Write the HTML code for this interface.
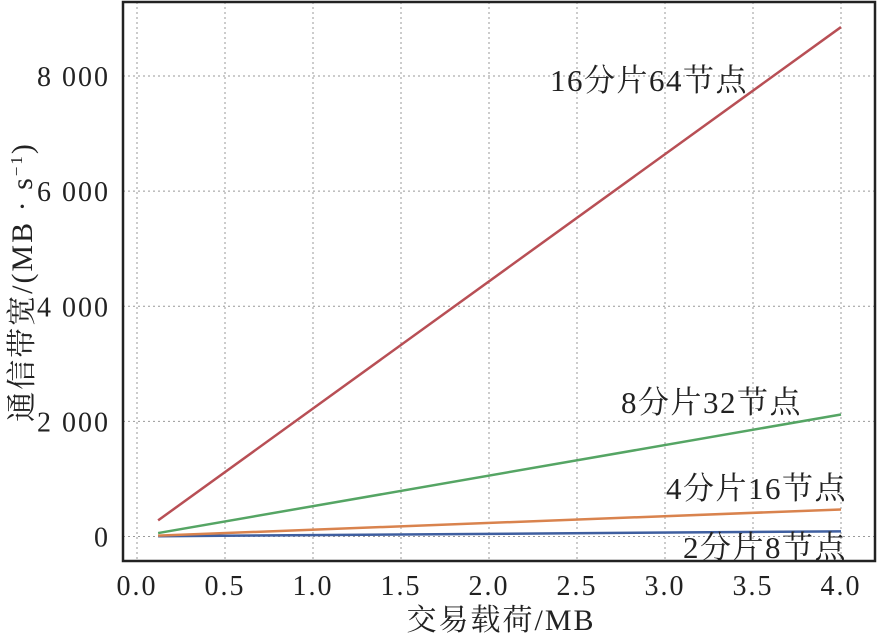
<!DOCTYPE html>
<html><head><meta charset="utf-8"><style>
body{margin:0;background:#fff;}
svg text{font-family:"Liberation Serif","Noto Serif CJK SC",serif;fill:#222;}
</style></head><body>
<svg width="880" height="638">
<g id="grid"></g>
<rect x="123" y="2" width="752" height="559" fill="none" stroke="#222" stroke-width="2.5"/>
<g id="ticks"></g>
<g id="series"></g>
<text x="501" y="630" font-size="30" letter-spacing="2" text-anchor="middle">交易载荷/MB</text>
<text transform="translate(32,282) rotate(-90)" font-size="30" letter-spacing="2" text-anchor="middle">通信带宽/(MB · s<tspan dy="-10" font-size="17">−1</tspan><tspan dy="10">)</tspan></text>
</svg>
<script>
const xTicks=[0,0.5,1,1.5,2,2.5,3,3.5,4];
const xTickLabels=["0.0","0.5","1.0","1.5","2.0","2.5","3.0","3.5","4.0"];
const yTicks=[0,2000,4000,6000,8000];
const yTickLabels=["0","2 000","4 000","6 000","8 000"];
const xValues=[0.12,4.0];
const s2=[5,90];
const s4=[15,470];
const s8=[60,2120];
const s16=[280,8850];
const seriesNames=["2分片8节点","4分片16节点","8分片32节点","16分片64节点"];
const NS="http://www.w3.org/2000/svg";
const X=v=>137+v*176;
const Y=v=>536.5-v*460.5/8000;
function mk(t,a,p){const e=document.createElementNS(NS,t);for(const k in a)e.setAttribute(k,a[k]);p.appendChild(e);return e;}
const grid=document.getElementById('grid'),ticks=document.getElementById('ticks'),ser=document.getElementById('series');
xTicks.forEach((v,i)=>{
 const l=mk('line',{x1:X(v),x2:X(v),y1:2,y2:561,stroke:'#999','stroke-dasharray':'2,3'},grid);
 
 
 const t=mk('text',{x:X(v),y:595,'font-size':28,'letter-spacing':2,'text-anchor':'middle'},ticks);t.textContent=xTickLabels[i];
 
 
});
yTicks.forEach((v,i)=>{
 const l=mk('line',{x1:123,x2:875,y1:Y(v),y2:Y(v),stroke:'#999','stroke-dasharray':'2,3'},grid);
 
 
 const t=mk('text',{x:110,y:Y(v)+10,'font-size':28,'letter-spacing':2,'text-anchor':'end'},ticks);t.textContent=yTickLabels[i];
 
 
});
const all=[s2,s4,s8,s16],cols=["#3f5fa0","#d9834e","#55a564","#b84f55"];
const labelPos=[[847,558],[847,499],[802,413],[748,91]];
all.forEach((s,i)=>{
 const p=mk('polyline',{points:s.map((v,j)=>X(xValues[j])+','+Y(v)).join(' '),fill:'none',stroke:cols[i],'stroke-width':2.5},ser);
 
 
 const t=mk('text',{x:labelPos[i][0],y:labelPos[i][1],'font-size':31,'letter-spacing':1.5,'text-anchor':'end'},ser);t.textContent=seriesNames[i];
 
 
});
</script>
</body></html>
